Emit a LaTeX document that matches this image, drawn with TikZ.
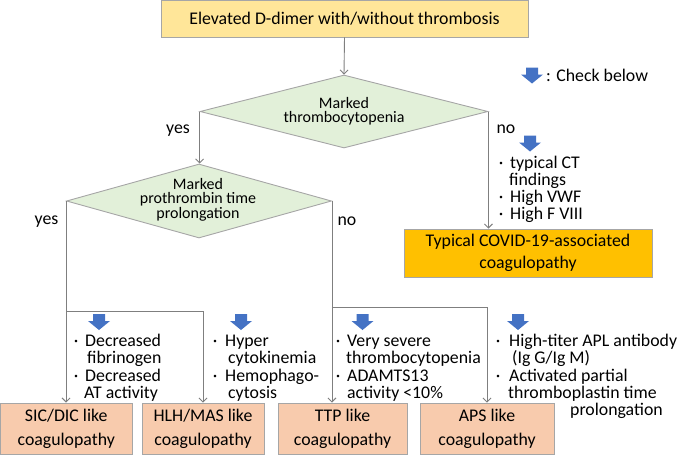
\documentclass[tikz,border=0pt]{standalone}
\usepackage{fontspec}
\setmainfont{Carlito}
\usetikzlibrary{arrows.meta,shapes.geometric,calc}
\definecolor{linegray}{HTML}{7F7F7F}
\definecolor{boxgray}{HTML}{A6A6A6}
\definecolor{topfill}{HTML}{FFE699}
\definecolor{dfill}{HTML}{E2F0D9}
\definecolor{covfill}{HTML}{FFC000}
\definecolor{resfill}{HTML}{F8CBAD}
\definecolor{ablue}{HTML}{4472C4}
\tikzset{
 txt/.style={font=\fontsize{17.8}{17.3}\selectfont, inner sep=0pt, text=black},
 box/.style={draw=boxgray, line width=0.9pt, inner sep=0pt, align=center},
 resbox/.style={box, fill=resfill, minimum height=51pt, font=\fontsize{17.8}{24}\selectfont},
 dia/.style={shape=diamond, draw=boxgray, fill=dfill, line width=0.9pt, inner sep=0pt},
 dtxt/.style={font=\fontsize{16}{14.5}\selectfont, align=center, inner sep=0pt},
 conn/.style={draw=linegray, line width=0.9pt},
 arr/.style={conn, -{Straight Barb[length=4pt,width=8pt]}},
 bluearrow/.pic={\fill[ablue] (-6,-8) -- (6,-8) -- (6,-1) -- (11,-1) -- (0,8) -- (-11,-1) -- (-6,-1) -- cycle;}
}
\newcommand\bdot[3]{\node[txt,anchor=base] (#1) at (#2,#3) {·};}
\newcommand\bline[4]{\node[txt,anchor=base west] (#1) at (#2,#3) {#4};}
\begin{document}
\begin{tikzpicture}[x=1pt,y=-1pt]
\useasboundingbox (0,0) rectangle (685,455);
% main nodes
\node[box, fill=topfill, minimum width=367pt, minimum height=36.5pt, font=\fontsize{17.8}{20}\selectfont] (top) at (344.5,18.7) {Elevated D-dimer with/without thrombosis};
\node[dia, minimum width=288pt, minimum height=73pt] (d1) at (344,111.5) {};
\node[dtxt] (d1t) at (344,111) {Marked\\thrombocytopenia};
\node[dia, minimum width=265pt, minimum height=74pt] (d2) at (199,201) {};
\node[dtxt] (d2t) at (198,199.5) {Marked\\prothrombin time\\prolongation};
\node[box, fill=covfill, minimum width=248pt, minimum height=48pt, font=\fontsize{17.8}{22}\selectfont] (cov) at (528,253) {Typical COVID-19-associated\\coagulopathy};
\node[resbox, minimum width=131.5pt] (sic) at (66.25,428.5) {SIC/DIC like\\coagulopathy};
\node[resbox, minimum width=122pt] (hlh) at (203,428.5) {HLH/MAS like\\coagulopathy};
\node[resbox, minimum width=129pt] (ttp) at (342.5,428.5) {TTP like\\coagulopathy};
\node[resbox, minimum width=134pt] (aps) at (487,428.5) {APS like\\coagulopathy};
% connectors
\draw[arr] (top.south) -- (d1.north);
\draw[arr] (d1.west) -- (d1.west |- d2.north);
\draw[arr] (d1.east) -- (d1.east |- cov.north);
\draw[arr] (d2.west) -- (d2.west |- sic.north);
\coordinate (jl) at ($(d2.west)+(0,110)$);
\draw[arr] (jl) -| (hlh.north);
\draw[arr] (d2.east) -- (d2.east |- ttp.north);
\coordinate (jr) at ($(d2.east)+(0,106)$);
\draw[arr] (jr) -| (aps.north);
% yes / no labels
\node[txt, anchor=base] (yes1) at (178,133.5) {yes};
\node[txt, anchor=base] (no1) at (506,133) {no};
\node[txt, anchor=base] (yes2) at (46.5,224.5) {yes};
\node[txt, anchor=base] (no2) at (347,225) {no};
% legend
\pic at (532,75.5) {bluearrow};
\node[txt, anchor=base west] (leg) at (546,81) {: Check below};
% blue arrows
\pic at (530,143.5) {bluearrow};
\pic at (99,322) {bluearrow};
\pic at (241,322) {bluearrow};
\pic at (362.5,322) {bluearrow};
\pic at (518,322) {bluearrow};
% no list
\bdot{nd1}{501}{168.5}\bline{nl1}{510}{168.5}{typical CT}
\bline{nl2}{509}{185.5}{findings}
\bdot{nd3}{501}{202.5}\bline{nl3}{510}{202.5}{High VWF}
\bdot{nd4}{501}{219.5}\bline{nl4}{510}{219.5}{High F VIII}
% SIC list
\bdot{sd1}{76}{346.5}\bline{sl1}{85}{346.5}{Decreased}
\bline{sl2}{87}{363.7}{fibrinogen}
\bdot{sd3}{76}{381}\bline{sl3}{85}{381}{Decreased}
\bline{sl4}{84}{398}{AT activity}
% HLH list
\bdot{hd1}{215}{346.5}\bline{hl1}{225}{346.5}{Hyper}
\bline{hl2}{228}{363.7}{cytokinemia}
\bdot{hd3}{215}{381}\bline{hl3}{225}{381}{Hemophago-}
\bline{hl4}{228}{398}{cytosis}
% TTP list
\bdot{td1}{338}{346.5}\bline{tl1}{347}{346.5}{Very severe}
\bline{tl2}{346}{363.7}{thrombocytopenia}
\bdot{td3}{338}{381}\bline{tl3}{347}{381}{ADAMTS13}
\bline{tl4}{347}{398}{activity <10\%}
% APS list
\bdot{ad1}{498}{346.5}\bline{al1}{509}{346.5}{High-titer APL antibody}
\bline{al2}{512}{363.7}{(Ig G/Ig M)}
\bdot{ad3}{498}{381}\bline{al3}{509}{381}{Activated partial}
\bline{al4}{508}{398}{thromboplastin time}
\bline{al5}{570}{415.5}{prolongation}
\end{tikzpicture}
\end{document}
